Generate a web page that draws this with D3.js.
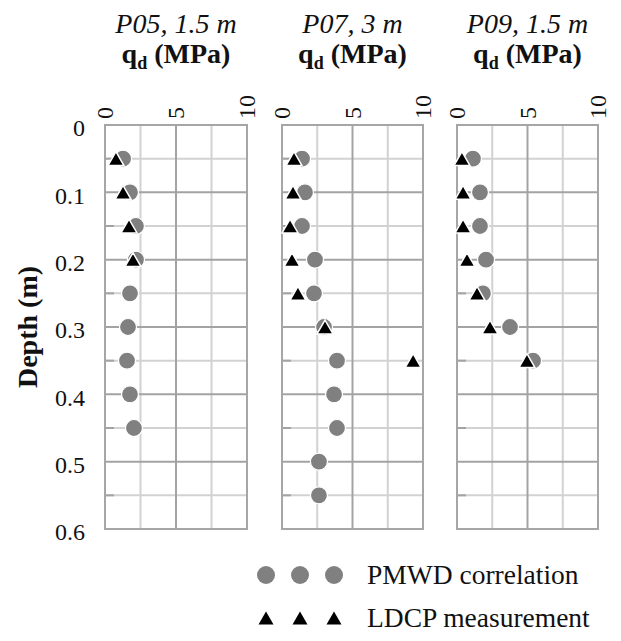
<!DOCTYPE html>
<html><head><meta charset="utf-8">
<script src="https://cdn.jsdelivr.net/npm/d3@7"></script>
<style>
html,body{margin:0;padding:0;background:#fff;}
svg{display:block;}
</style></head>
<body>
<svg id="chart" width="621" height="641"></svg>
<script>
// ---- data ----
const panelTitles = ["P05, 1.5 m", "P07, 3 m", "P09, 1.5 m"];
const xTicks = [0, 5, 10];
const yTicks = [0, 0.1, 0.2, 0.3, 0.4, 0.5, 0.6];

const p05Depth = [0.05, 0.10, 0.15, 0.20, 0.25, 0.30, 0.35, 0.40, 0.45];
const p05PMWD  = [1.27, 1.76, 2.18, 2.18, 1.76, 1.62, 1.55, 1.76, 2.04];
const p05LDCPDepth = [0.05, 0.10, 0.15, 0.20];
const p05LDCP  = [0.77, 1.27, 1.69, 1.97];

const p07Depth = [0.05, 0.10, 0.15, 0.20, 0.25, 0.30, 0.35, 0.40, 0.45, 0.50, 0.55];
const p07PMWD  = [1.42, 1.63, 1.42, 2.34, 2.27, 2.98, 3.90, 3.69, 3.90, 2.62, 2.62];
const p07LDCPDepth = [0.05, 0.10, 0.15, 0.20, 0.25, 0.30, 0.35];
const p07LDCP  = [0.85, 0.78, 0.57, 0.71, 1.13, 3.05, 9.30];

const p09Depth = [0.05, 0.10, 0.15, 0.20, 0.25, 0.30, 0.35];
const p09PMWD  = [1.13, 1.63, 1.63, 2.06, 1.84, 3.76, 5.39];
const p09LDCPDepth = [0.05, 0.10, 0.15, 0.20, 0.25, 0.30, 0.35];
const p09LDCP  = [0.35, 0.43, 0.43, 0.71, 1.42, 2.34, 4.96];

const legendLabels = ["PMWD correlation", "LDCP measurement"];

const panels = [
  {title: panelTitles[0], depth: p05Depth, pmwd: p05PMWD, ldcpDepth: p05LDCPDepth, ldcp: p05LDCP},
  {title: panelTitles[1], depth: p07Depth, pmwd: p07PMWD, ldcpDepth: p07LDCPDepth, ldcp: p07LDCP},
  {title: panelTitles[2], depth: p09Depth, pmwd: p09PMWD, ldcpDepth: p09LDCPDepth, ldcp: p09LDCP}
];

// ---- layout ----
const FONT = "'Liberation Serif', Tinos, 'Times New Roman', Times, 'DejaVu Serif', 'Noto Serif', serif";
const svg = d3.select("#chart").attr("font-family", FONT);
const plotTop = 125, plotBottom = 529;
const panelX = [[105, 247], [282, 423], [457, 598]];
const y = d3.scaleLinear().domain([0, 0.6]).range([plotTop, plotBottom]);

const circleColor = "#808080";
const majorGrid = "#a3a3a3", minorGrid = "#d2d2d2";
const triSide = 16;
const triArea = triSide * triSide * Math.sqrt(3) / 4;
const triH = triSide * Math.sqrt(3) / 2;
const tri = d3.symbol(d3.symbolTriangle, triArea);

panels.forEach((p, i) => {
  const x = d3.scaleLinear().domain([0, 10]).range(panelX[i]);
  const g = svg.append("g");
  const cx = (panelX[i][0] + panelX[i][1]) / 2;

  const xMinor = [2.5, 7.5];
  const yMinor = [0.05, 0.15, 0.25, 0.35, 0.45, 0.55];
  g.selectAll(".vmin").data(xMinor).join("line")
    .attr("x1", d => x(d)).attr("x2", d => x(d)).attr("y1", plotTop).attr("y2", plotBottom)
    .attr("stroke", minorGrid).attr("stroke-width", 2);
  g.selectAll(".hmin").data(yMinor).join("line")
    .attr("x1", x(0)).attr("x2", x(10)).attr("y1", d => y(d)).attr("y2", d => y(d))
    .attr("stroke", minorGrid).attr("stroke-width", 2);
  const xMajor = [5];
  const yMajor = [0.1, 0.2, 0.3, 0.4, 0.5];
  g.selectAll(".vmaj").data(xMajor).join("line")
    .attr("x1", d => x(d)).attr("x2", d => x(d)).attr("y1", plotTop).attr("y2", plotBottom)
    .attr("stroke", majorGrid).attr("stroke-width", 2);
  g.selectAll(".hmaj").data(yMajor).join("line")
    .attr("x1", x(0)).attr("x2", x(10)).attr("y1", d => y(d)).attr("y2", d => y(d))
    .attr("stroke", majorGrid).attr("stroke-width", 2);
  g.selectAll(".mt").data(yMinor).join("line")
    .attr("x1", x(0)).attr("x2", x(0) + 9).attr("y1", d => y(d)).attr("y2", d => y(d))
    .attr("stroke", majorGrid).attr("stroke-width", 2);
  g.append("rect").attr("x", x(0)).attr("y", plotTop)
    .attr("width", x(10) - x(0)).attr("height", plotBottom - plotTop)
    .attr("fill", "none").attr("stroke", "#a6a6a6").attr("stroke-width", 2);

  g.selectAll(".xt").data(xTicks).join("text")
    .attr("transform", d => `translate(${x(d)},119) rotate(-90)`)
    .attr("dy", "0.35em")
    .attr("text-anchor", "start")
    .attr("font-family", FONT)
    .attr("font-size", 24).attr("fill", "#111")
    .text(d => d);

  g.append("text").attr("x", cx).attr("y", 33).attr("text-anchor", "middle")
    .attr("font-family", FONT)
    .attr("font-size", 28).attr("font-style", "italic").attr("fill", "#111").text(p.title);
  const t2 = g.append("text").attr("x", cx).attr("y", 63).attr("text-anchor", "middle")
    .attr("font-family", FONT)
    .attr("font-size", 28).attr("font-weight", "bold").attr("fill", "#111");
  t2.append("tspan").text("q");
  t2.append("tspan").attr("font-size", 18).attr("dy", 6).text("d");
  t2.append("tspan").attr("dy", -6).text(" (MPa)");

  g.selectAll(".c").data(p.pmwd.map((v, k) => [v, p.depth[k]])).join("circle")
    .attr("cx", d => x(d[0])).attr("cy", d => y(d[1])).attr("r", 8.5)
    .attr("fill", circleColor).attr("stroke", "#fff").attr("stroke-width", 1.2);
  g.selectAll(".t").data(p.ldcp.map((v, k) => [v, p.ldcpDepth[k]])).join("path")
    .attr("d", tri)
    .attr("transform", d => `translate(${x(d[0])},${y(d[1]) + triH / 6})`)
    .attr("fill", "#000").attr("stroke", "#fff").attr("stroke-width", 1.5);
});

const yAxis = d3.axisLeft(y).tickValues(yTicks).tickSize(0).tickPadding(0)
  .tickFormat(d => d3.format("")(+d.toFixed(1)));
const ya = svg.append("g").attr("transform", "translate(85,3)").call(yAxis)
  .attr("font-family", FONT).attr("font-size", 24);
ya.select(".domain").remove();
ya.selectAll("text").attr("font-size", 24).attr("fill", "#111").attr("font-family", FONT);

svg.append("text").attr("transform", `translate(37,327) rotate(-90)`)
  .attr("text-anchor", "middle").attr("font-size", 28).attr("font-weight", "bold")
  .attr("font-family", FONT)
  .attr("fill", "#111").text("Depth (m)");

const legX = [266, 300, 334];
const lg = svg.append("g");
lg.selectAll(".lc").data(legX).join("circle")
  .attr("cx", d => d).attr("cy", 575).attr("r", 9).attr("fill", circleColor);
lg.selectAll(".lt").data(legX).join("path")
  .attr("d", d3.symbol(d3.symbolTriangle, 15 * 15 * Math.sqrt(3) / 4))
  .attr("transform", d => `translate(${d},${618 + 13 / 6})`)
  .attr("fill", "#000");
lg.append("text").attr("x", 367).attr("y", 584).attr("font-family", FONT).attr("font-size", 27.5).attr("fill", "#111").text(legendLabels[0]);
lg.append("text").attr("x", 367).attr("y", 627).attr("font-family", FONT).attr("font-size", 27.5).attr("fill", "#111").text(legendLabels[1]);
</script>
</body></html>
